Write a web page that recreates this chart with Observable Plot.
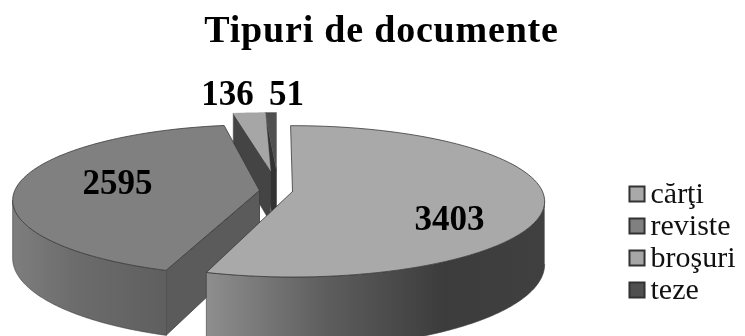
<!DOCTYPE html>
<html><head><meta charset="utf-8">
<style>html,body{margin:0;padding:0;background:#fff;overflow:hidden}svg{display:block;filter:blur(0.45px)}</style>
<script src="https://cdn.jsdelivr.net/npm/d3@7"></script>
<script src="https://cdn.jsdelivr.net/npm/@observablehq/plot@0.6"></script>
</head><body><script>
const titleText = "Tipuri de documente";
const categories = ["cărţi", "reviste", "broşuri", "teze"];
const values = [3403, 2595, 136, 51];

// drawing configuration, kept apart from the data
const tops = ["#a9a9a9", "#808080", "#a6a6a6", "#505050"];
const cuts = ["#8a8a8a", "#5b5b5b", "#444444", "#333333"];
const swatches = ["#a9a9a9", "#808080", "#a6a6a6", "#505050"];
const layout = [
  {ax: 292, ay: 191, fx: 0.996, fy: 1, rot: -0.5, depth: 62},
  {ax: 259, ay: 190, fx: 0.975, fy: 1, rot: 1.5, depth: 57},
  {ax: 270, ay: 170, fx: 1.05, fy: 0.88, rot: 1.7, depth: 52},
  {ax: 276, ay: 170, fx: 1, fy: 0.88, rot: 0, depth: 70}
];
const Rx = 251, Ry = 74.4, k = 0.13;

const total = d3.sum(values);
let acc = 0;
const slices = values.map((v, i) => {
  const a0 = acc / total * 360; acc += v; const a1 = acc / total * 360;
  return {i, a0: a0 + layout[i].rot, a1: a1 + layout[i].rot, ...layout[i]};
});
const rad = d => d * Math.PI / 180;
function P(s, a) {
  const u = Math.sin(rad(a)), v = -Math.cos(rad(a)), w = 1 - k * v;
  return {x: s.ax + Rx * s.fx * u / w, y: s.ay + Ry * s.fy * v / w, d: s.depth / w};
}
function topPoly(s) {
  const apex = {x: s.ax, y: s.ay}, pts = [apex];
  for (let j = 0; j <= 90; j++) { const p = P(s, s.a0 + (s.a1 - s.a0) * j / 90); pts.push({x: p.x, y: p.y}); }
  pts.push(apex);
  return pts;
}
function cutPoly(s, a) {
  const e = P(s, a);
  return [{x: s.ax, y: s.ay}, {x: e.x, y: e.y}, {x: e.x, y: e.y + e.d}, {x: s.ax, y: s.ay + s.depth}, {x: s.ax, y: s.ay}];
}
// outer wall of a slice, from its silhouette angle on (where the screen x peaks)
const silhouette = Math.acos(-k) * 180 / Math.PI;
function sidePoly(s) {
  const from = Math.max(s.a0, silhouette), to = Math.min(s.a1, 360 - silhouette), up = [], down = [];
  for (let j = 0; j <= 120; j++) {
    const p = P(s, from + (to - from) * j / 120);
    up.push({x: p.x, y: p.y}); down.push({x: p.x, y: p.y + p.d});
  }
  return up.concat(down.reverse());
}
const outline = "#3a3a3a";
const sliceMarks = s => {
  const marks = [];
  if (s.i === 1) marks.push(Plot.line(cutPoly(s, s.a0), {x: "x", y: "y", fill: cuts[1], stroke: outline, strokeWidth: 0.8}));
  if (s.i > 1) marks.push(Plot.line(cutPoly(s, s.a0), {x: "x", y: "y", fill: cuts[s.i], stroke: cuts[s.i], strokeWidth: 0.5}));
  if (s.i < 2) marks.push(Plot.line(sidePoly(s), {x: "x", y: "y", fill: `url(#wall${s.i})`, stroke: outline, strokeWidth: 0.6}));
  marks.push(Plot.line(topPoly(s), {x: "x", y: "y", fill: tops[s.i], stroke: s.i > 1 ? tops[s.i] : outline, strokeWidth: s.i > 1 ? 0.4 : 0.8}));
  return marks;
};
const wallStops = [
  [[0, "#404040"], [0.3, "#3c3c3c"], [0.65, "#5e5e5e"], [1, "#8e8e8e"]],
  [[0, "#5f5f5f"], [0.6, "#6c6c6c"], [1, "#7e7e7e"]]
];
const gradients = () => {
  const defs = d3.create("svg:defs");
  wallStops.forEach((stops, i) => {
    const g = defs.append("linearGradient").attr("id", "wall" + i).attr("x1", 1).attr("x2", 0).attr("y1", 0).attr("y2", 0);
    stops.forEach(([o, c]) => g.append("stop").attr("offset", o).attr("stop-color", c));
  });
  return defs.node();
};

const serif = "'Liberation Serif', 'DejaVu Serif', serif";
const valueLabels = [
  {t: values[0], x: 449, y: 218}, {t: values[1], x: 117, y: 182},
  {t: values[2], x: 227, y: 93}, {t: values[3], x: 286, y: 93}
];
const legend = categories.map((name, i) => ({name, i, fill: swatches[i]}));
const legendY = i => 193.5 + i * 32;

const chart = Plot.plot({
  width: 745, height: 336, margin: 0,
  x: {domain: [0, 745], range: [0, 745], axis: null},
  y: {domain: [0, 336], range: [0, 336], axis: null},
  color: {type: "identity"},
  style: {background: "#fff"},
  marks: [
    gradients,
    ...[3, 2, 1, 0].flatMap(i => sliceMarks(slices[i])),
    Plot.text([titleText], {x: 381, y: 29, text: d => d, fontFamily: serif, fontWeight: "bold", fontSize: 38, fill: "#000", textAnchor: "middle", lineAnchor: "middle"}),
    Plot.text(valueLabels, {x: "x", y: "y", text: d => String(d.t), fontFamily: serif, fontWeight: "bold", fontSize: 35, fill: "#000", textAnchor: "middle", lineAnchor: "middle"}),
    Plot.dot(legend, {x: 636.5, y: d => legendY(d.i), symbol: "square", r: 8.5, fill: "fill", stroke: "#333", strokeWidth: 2}),
    Plot.text(legend, {x: 650, y: d => legendY(d.i) - 1, text: "name", fontFamily: serif, fontSize: 30, fill: "#111", textAnchor: "start", lineAnchor: "middle"})
  ]
});
d3.select(chart).selectAll("text").filter(function () { return this.textContent === titleText; }).style("letter-spacing", "0.8px");
document.body.append(chart);
</script></body></html>
